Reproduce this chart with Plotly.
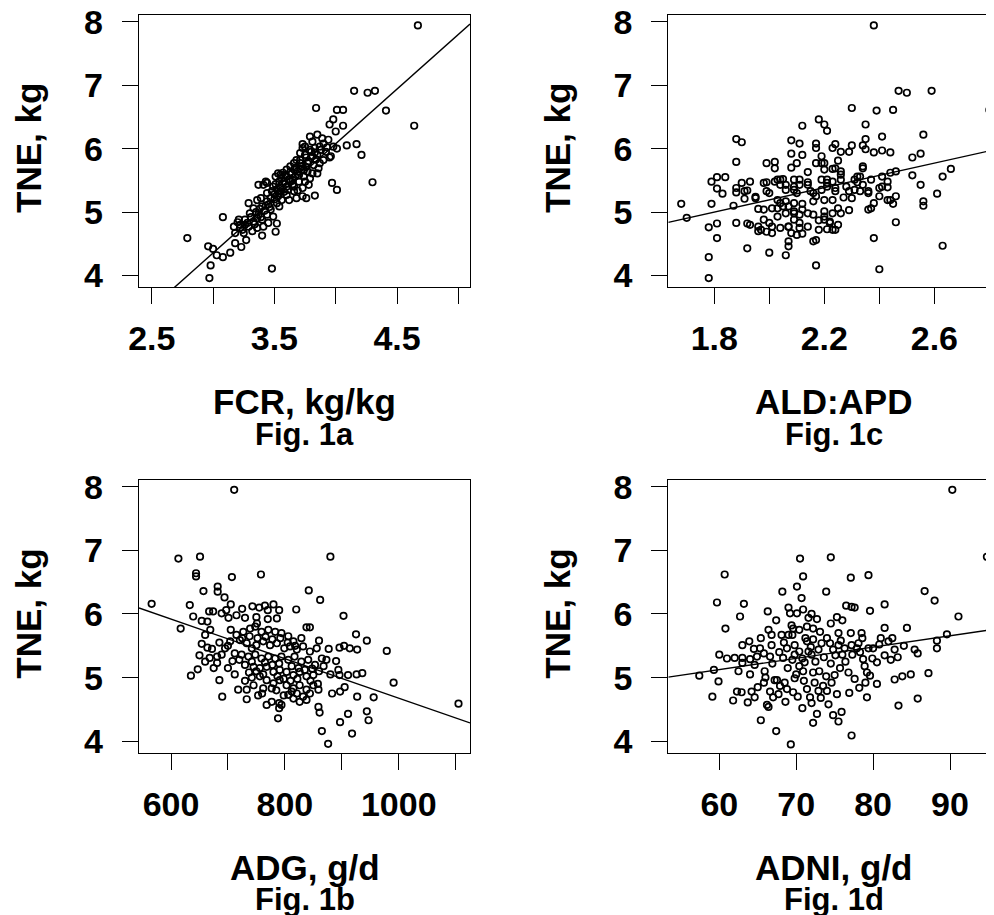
import plotly.graph_objects as go

# ---------------- data ----------------
# Fig. 1a : FCR (kg/kg) vs TNE (kg)
fcr_pts = [
    (4.67, 7.94), (4.15, 6.91), (4.26, 6.88), (4.32, 6.91), (3.84, 6.64), (4.01, 6.61), (4.06, 6.61),
    (4.41, 6.60), (3.98, 6.46), (3.95, 6.38), (4.06, 6.36), (4.00, 6.27), (4.64, 6.36), (4.09, 6.05),
    (4.17, 6.07), (4.21, 5.90), (3.97, 5.46), (4.01, 5.35), (4.30, 5.47), (3.83, 5.26), (3.76, 5.22),
    (3.52, 4.82), (3.51, 4.69), (3.48, 4.11), (3.40, 4.63), (3.08, 4.92), (2.79, 4.59), (2.96, 4.46),
    (3.00, 4.42), (3.03, 4.32), (3.08, 4.29), (3.14, 4.36), (2.98, 4.16), (2.97, 3.96), (3.18, 4.51),
    (3.23, 4.45), (3.27, 4.56),
    (3.85, 6.22), (3.89, 6.16), (3.81, 6.11), (3.94, 6.14), (3.75, 6.03), (3.73, 6.01), (3.79, 5.98),
    (3.83, 6.01), (3.87, 6.03), (3.92, 5.95), (3.96, 5.88), (3.98, 6.03), (4.01, 6.00),
    (3.71, 5.93), (3.75, 5.90), (3.81, 5.88), (3.85, 5.90), (3.90, 5.82), (3.95, 5.86), (3.71, 5.82),
    (3.66, 5.77), (3.77, 5.77), (3.82, 5.74), (3.87, 5.77), (3.86, 5.69), (3.63, 5.72),
    (3.60, 5.67), (3.66, 5.67), (3.71, 5.69), (3.77, 5.64), (3.81, 5.61), (3.85, 5.61), (3.55, 5.59),
    (3.60, 5.56), (3.67, 5.56), (3.74, 5.56), (3.79, 5.53), (3.58, 5.48), (3.63, 5.48), (3.70, 5.48),
    (3.75, 5.48), (3.54, 5.48),
    (3.44, 5.46), (3.41, 5.43), (3.49, 5.40), (3.55, 5.38), (3.60, 5.40), (3.66, 5.40), (3.73, 5.38),
    (3.78, 5.43), (3.48, 5.33), (3.54, 5.30), (3.60, 5.27), (3.66, 5.33), (3.73, 5.25), (3.62, 5.19),
    (3.68, 5.22), (3.44, 5.30), (3.39, 5.22),
    (3.29, 5.14), (3.36, 5.19), (3.44, 5.17), (3.52, 5.14), (3.56, 5.19), (3.33, 5.06), (3.40, 5.09),
    (3.47, 5.04), (3.54, 5.09), (3.30, 4.98), (3.37, 4.96), (3.44, 4.96), (3.49, 4.93),
    (3.21, 4.88), (3.26, 4.88), (3.33, 4.85), (3.40, 4.88), (3.45, 4.83), (3.17, 4.77), (3.22, 4.75),
    (3.29, 4.77), (3.36, 4.75), (3.41, 4.77), (3.18, 4.67), (3.25, 4.67), (3.32, 4.70), (3.20, 4.84),
    (3.37, 5.43), (3.43, 5.48), (3.51, 5.56), (3.53, 5.61), (3.68, 5.82), (3.73, 6.07), (3.79, 6.19),
    (3.57, 5.45), (3.62, 5.52), (3.65, 5.44), (3.52, 5.36), (3.58, 5.32), (3.47, 5.22), (3.53, 5.25),
    (3.64, 5.60), (3.69, 5.64), (3.72, 5.72), (3.78, 5.80), (3.80, 5.95), (3.88, 5.98), (3.45, 5.12),
    (3.35, 5.00), (3.26, 4.80), (3.31, 4.92), (3.38, 5.05), (3.42, 5.02), (3.90, 6.08),
    (3.56, 5.53), (3.61, 5.35), (3.50, 5.28), (3.46, 5.08), (3.39, 4.92), (3.34, 4.81), (3.24, 4.72),
    (3.69, 5.34), (3.70, 5.58), (3.76, 5.71), (3.84, 5.83), (3.93, 6.02), (3.57, 5.62), (3.51, 5.44),
    (3.59, 5.58), (3.63, 5.63), (3.68, 5.70), (3.74, 5.66), (3.76, 5.86), (3.83, 5.94), (3.55, 5.33),
    (3.50, 5.20), (3.43, 5.10), (3.36, 4.90), (3.28, 4.83), (3.22, 4.80), (3.65, 5.50), (3.71, 5.77),
]

# Fig. 1c : ALD:APD vs TNE (kg)
ald_pts = [
    (2.38, 7.94), (2.47, 6.91), (2.50, 6.88), (2.59, 6.91), (2.80, 6.61), (2.30, 6.64), (2.39, 6.60),
    (2.45, 6.61), (2.18, 6.46), (2.20, 6.38), (2.21, 6.28), (2.12, 6.36), (2.35, 6.38), (2.35, 6.15),
    (2.41, 6.19), (2.56, 6.22), (1.88, 6.15), (1.90, 6.10), (1.88, 5.79), (2.08, 6.13), (2.11, 6.08),
    (2.17, 6.08), (2.17, 6.01), (2.08, 5.92), (2.12, 5.90), (2.23, 6.01), (2.24, 6.07), (2.26, 5.95),
    (2.29, 5.95), (2.30, 6.05), (2.34, 6.05), (2.35, 5.99), (2.38, 5.94), (2.41, 5.97), (2.44, 5.94),
    (2.52, 5.86), (2.55, 5.92), (2.19, 5.88), (2.19, 5.77), (2.25, 5.81), (1.99, 5.77), (2.02, 5.79),
    (2.02, 5.69), (2.08, 5.70), (2.10, 5.77), (2.14, 5.63), (2.17, 5.77), (2.20, 5.67), (2.23, 5.68),
    (2.26, 5.64), (2.34, 5.69), (2.44, 5.62), (2.46, 5.64), (2.66, 5.68), (2.63, 5.56), (2.52, 5.58),
    (2.55, 5.43), (2.61, 5.29), (2.56, 5.17), (2.56, 5.10), (2.41, 5.56), (2.43, 5.48), (2.41, 5.40),
    (2.43, 5.39), (2.40, 5.25), (2.44, 5.19), (2.46, 5.25), (2.45, 5.13), (2.46, 4.84), (2.38, 5.14),
    (2.37, 5.06), (2.36, 5.04), (2.38, 4.59), (2.40, 4.10), (2.63, 4.47), (2.31, 5.51), (2.33, 5.56),
    (2.32, 5.47), (2.34, 5.43), (2.36, 5.33), (2.33, 5.33), (2.29, 5.33), (2.30, 5.22), (2.27, 5.23),
    (2.29, 5.03), (2.26, 4.98), (2.25, 5.06), (2.23, 4.98), (2.20, 5.01), (2.22, 4.85), (2.25, 4.80),
    (2.23, 4.72), (2.21, 4.73), (2.18, 4.72), (2.18, 4.87), (2.20, 4.88), (2.16, 4.54), (2.17, 4.56),
    (2.17, 4.16), (2.14, 4.77), (2.12, 4.66), (2.10, 4.64), (2.08, 4.67), (2.07, 4.54), (2.07, 4.46),
    (2.06, 4.32), (2.00, 4.36), (2.04, 4.75), (2.01, 4.67), (1.99, 4.69), (1.96, 4.70), (1.96, 4.77),
    (1.98, 4.88), (2.00, 4.83), (2.03, 4.93), (2.06, 4.98), (2.09, 4.98), (2.11, 4.96), (2.14, 4.98),
    (1.92, 4.43), (1.92, 4.82), (1.88, 4.83), (1.81, 4.82), (1.78, 4.76), (1.81, 4.59), (1.78, 4.29),
    (1.78, 3.96), (1.68, 5.13), (1.70, 4.91), (1.79, 5.13), (1.87, 5.10), (1.96, 5.05), (1.79, 5.48),
    (1.81, 5.55), (1.84, 5.55), (1.81, 5.37), (1.83, 5.29), (1.88, 5.38), (1.88, 5.31), (1.90, 5.46),
    (1.93, 5.48), (1.92, 5.34), (1.91, 5.21), (1.95, 5.24), (1.99, 5.47), (1.99, 5.33), (2.00, 5.30),
    (2.02, 5.48), (2.04, 5.51), (2.05, 5.52), (2.06, 5.43), (2.09, 5.51), (2.09, 5.35), (2.10, 5.30),
    (2.11, 5.43), (2.14, 5.47), (2.15, 5.33), (2.17, 5.25), (2.19, 5.35), (2.21, 5.51), (2.21, 5.40),
    (2.23, 5.48), (2.24, 5.38), (2.03, 5.19), (2.04, 5.14), (2.06, 5.17), (2.07, 5.09), (2.09, 5.14),
    (2.12, 5.13), (2.16, 5.17), (2.20, 5.19), (2.23, 5.19), (2.03, 5.06), (2.09, 4.88), (2.07, 4.77),
    (2.11, 4.75),
    (2.20, 5.77), (2.24, 5.69), (2.26, 5.59), (2.32, 5.56), (2.34, 5.72), (2.37, 5.51), (2.36, 5.30),
    (2.40, 5.38), (2.43, 5.19), (1.91, 5.33), (1.95, 5.22), (1.98, 5.46), (2.03, 5.51), (2.04, 5.43),
    (2.06, 5.35), (2.09, 5.40), (2.11, 5.51), (2.14, 5.43), (2.16, 5.30), (2.19, 5.51), (2.21, 5.46),
    (2.24, 5.33), (2.26, 5.51), (2.28, 5.40), (2.31, 5.35), (1.98, 5.04), (2.01, 5.06), (2.05, 5.09),
    (2.09, 5.01), (2.12, 5.04), (2.16, 4.96), (2.20, 4.93), (2.22, 4.83), (2.24, 4.72), (2.11, 4.83),
    (2.07, 4.77), (2.01, 4.77), (1.97, 4.72), (1.93, 4.80),
]

# Fig. 1b : ADG (g/d) vs TNE (kg)
adg_pts = [
    (711, 7.95), (613, 6.87), (651, 6.90), (880, 6.90), (644, 6.64), (644, 6.59), (707, 6.58),
    (758, 6.62), (657, 6.36), (682, 6.43), (682, 6.35), (694, 6.26), (842, 6.37), (862, 6.22),
    (566, 6.16), (633, 6.14), (617, 5.77), (639, 5.96), (654, 5.89), (664, 5.88), (667, 6.04),
    (674, 6.04), (697, 6.06), (689, 6.01), (701, 5.94), (715, 5.98), (730, 5.94), (743, 6.12),
    (755, 6.10), (765, 6.13), (780, 6.15), (790, 6.06), (786, 5.93), (770, 6.06), (820, 6.07),
    (903, 5.97), (925, 5.68), (944, 5.58), (979, 5.42), (991, 4.92), (1105, 4.59),
    (660, 5.67), (669, 5.75), (654, 5.53), (664, 5.47), (650, 5.35), (668, 5.31), (681, 5.33),
    (681, 5.23), (689, 5.36), (695, 5.46), (704, 5.57), (715, 5.67), (727, 5.72), (739, 5.77),
    (748, 5.80), (759, 5.72), (771, 5.75), (783, 5.72), (794, 5.70), (806, 5.65), (815, 5.57),
    (829, 5.62), (838, 5.79), (844, 5.79), (860, 5.58), (877, 5.45), (896, 5.47), (904, 5.50),
    (914, 5.46), (927, 5.44), (894, 5.12), (890, 5.26), (896, 5.04), (911, 5.04), (926, 5.05),
    (936, 5.07), (635, 5.03), (647, 5.13), (685, 4.96), (690, 4.70), (718, 4.81), (733, 4.81),
    (733, 4.66), (753, 4.72), (768, 4.57), (777, 4.62), (790, 4.60), (790, 4.52), (788, 4.36),
    (794, 4.57), (859, 4.81), (859, 4.54), (861, 4.45), (865, 4.16), (876, 3.96), (897, 4.30),
    (883, 4.75), (897, 4.78), (905, 4.85), (911, 4.43), (918, 4.12), (927, 4.70), (944, 4.47),
    (947, 4.33), (956, 4.69),
    (721, 5.59), (733, 5.54), (742, 5.46), (750, 5.51), (762, 5.57), (774, 5.51), (786, 5.54),
    (799, 5.46), (809, 5.49), (821, 5.44), (832, 5.49), (844, 5.41), (856, 5.46), (712, 5.38),
    (724, 5.36), (736, 5.33), (748, 5.36), (759, 5.30), (771, 5.33), (783, 5.30), (794, 5.33),
    (806, 5.28), (817, 5.33), (829, 5.25), (841, 5.28), (853, 5.20), (865, 5.30), (873, 5.28),
    (730, 5.20), (745, 5.17), (756, 5.15), (768, 5.17), (780, 5.09), (791, 5.12), (803, 5.09),
    (815, 5.04), (826, 5.09), (838, 5.02), (850, 5.04), (756, 5.02), (768, 4.96), (780, 4.91),
    (791, 4.96), (803, 4.88), (815, 4.83), (826, 4.88), (838, 4.81), (850, 4.88), (745, 4.88),
    (762, 4.83), (806, 4.73), (821, 4.75), (832, 4.70), (844, 4.75), (815, 4.67), (777, 4.83),
    (751, 5.85),
    (705, 5.75), (725, 5.62), (738, 5.65), (752, 5.62), (766, 5.64), (778, 5.60), (792, 5.62),
    (805, 5.55), (818, 5.50), (700, 5.50), (708, 5.26), (720, 5.28), (742, 5.25), (765, 5.24),
    (778, 5.20), (790, 5.22), (812, 5.18), (824, 5.15), (835, 5.12), (848, 5.14), (860, 5.10),
    (737, 5.08), (750, 5.10), (762, 5.05), (787, 5.02), (798, 4.98), (810, 4.95), (822, 4.98),
    (845, 4.95), (858, 4.90), (730, 4.95), (742, 5.00), (760, 4.75), (785, 4.80), (798, 4.72),
    (812, 4.78), (826, 4.62), (838, 4.65), (700, 5.15), (712, 5.05), (868, 5.18), (880, 5.05),
    (672, 5.45), (685, 5.55), (660, 5.25), (675, 5.15), (705, 6.15), (725, 6.08), (750, 5.95),
    (770, 5.92),
]

# Fig. 1d : ADNI (g/d) vs TNE (kg)
adni_pts = [
    (90.3, 7.95), (94.8, 6.90), (70.5, 6.87), (74.5, 6.89), (60.7, 6.62), (70.9, 6.59), (77.1, 6.57),
    (79.4, 6.61), (70.1, 6.43), (68.2, 6.35), (73.9, 6.35), (70.7, 6.25), (86.7, 6.36), (88.0, 6.21),
    (59.7, 6.18), (63.2, 6.16), (62.7, 5.96), (60.8, 5.77), (66.3, 6.04), (67.4, 5.90), (70.9, 6.07),
    (69.2, 6.01), (70.1, 6.01), (72.7, 5.92), (71.6, 5.94), (75.3, 5.95), (76.5, 6.13), (77.2, 6.11),
    (77.6, 6.10), (79.6, 6.05), (81.5, 6.15), (91.1, 5.96), (89.6, 5.68), (88.3, 5.58), (88.3, 5.46),
    (84.4, 5.78), (81.5, 5.78), (81.0, 5.62), (82.0, 5.57), (82.8, 5.44), (85.4, 5.44), (85.8, 5.38),
    (82.3, 5.28), (87.2, 5.07), (84.9, 5.05), (83.8, 5.02), (82.8, 4.97), (85.8, 4.67), (83.3, 4.56),
    (80.5, 4.90), (79.2, 4.69), (78.2, 4.84), (76.9, 4.76), (77.2, 4.09), (75.9, 4.46), (74.8, 4.41),
    (75.5, 4.31), (72.7, 4.43), (72.2, 4.29), (70.8, 4.52), (69.3, 3.95), (67.4, 4.16), (65.4, 4.33),
    (66.4, 4.54), (66.2, 4.57), (67.0, 4.69), (66.6, 4.78), (65.8, 4.92), (67.2, 4.96), (64.6, 4.69),
    (64.2, 4.78), (62.9, 4.77), (62.3, 4.78), (61.8, 4.64), (59.1, 4.70), (59.9, 4.94), (57.4, 5.03),
    (59.3, 5.12), (60.0, 5.36), (62.0, 5.31), (63.0, 5.31), (64.0, 5.29), (63.0, 5.51), (63.9, 5.57),
    (63.0, 5.23), (64.6, 5.20), (64.9, 5.33), (65.3, 5.46), (65.4, 5.62), (65.8, 5.38), (66.6, 5.33),
    (66.4, 5.75), (66.8, 5.67), (66.8, 5.51), (68.3, 5.31), (68.8, 5.46), (69.0, 5.67), (69.5, 5.67),
    (69.6, 5.77), (69.8, 5.51), (69.8, 5.36), (69.5, 5.28), (67.5, 4.96), (68.5, 4.92), (68.8, 4.82),
    (69.8, 4.99), (69.6, 4.77), (70.4, 5.18), (70.9, 5.10), (71.1, 5.24), (71.4, 4.82), (71.8, 4.69),
    (72.2, 5.08), (72.4, 4.92), (72.9, 4.79), (73.5, 4.87), (74.0, 4.79), (74.6, 4.92), (75.3, 4.74),
    (75.7, 5.15), (75.0, 5.04), (71.6, 5.41), (72.0, 5.36), (72.9, 5.44), (73.3, 5.54), (74.0, 5.62),
    (74.4, 5.54), (74.8, 5.44), (75.5, 5.70), (75.5, 5.51), (76.0, 5.36), (76.3, 5.46), (77.1, 5.70),
    (77.2, 5.51), (77.3, 5.36), (77.9, 5.46), (78.1, 5.54), (78.5, 5.70), (78.7, 5.29), (78.9, 5.18),
    (79.2, 5.08), (79.6, 5.03), (79.4, 5.46), (80.0, 5.46), (80.5, 5.24), (72.2, 5.77), (73.1, 5.72),
    (70.4, 5.75), (71.4, 5.80), (72.2, 5.60), (71.4, 5.57), (70.4, 5.41), (67.9, 4.87), (69.4, 5.82),
    (68.1, 5.67), (63.7, 4.61),
    (64.5, 5.45), (65.9, 5.10), (66.9, 5.22), (67.8, 5.40), (68.4, 5.55), (68.9, 5.15), (70.0, 5.05),
    (70.8, 5.30), (71.2, 5.62), (71.9, 5.48), (72.5, 5.25), (73.0, 5.10), (73.6, 5.32), (73.9, 5.02),
    (74.5, 5.22), (75.1, 5.35), (75.8, 5.58), (76.4, 5.25), (76.8, 5.08), (77.6, 4.98), (78.3, 5.40),
    (78.6, 5.62), (79.0, 4.92), (79.9, 5.30), (80.8, 5.52), (81.5, 5.35), (82.5, 5.62), (83.2, 5.32),
    (84.0, 5.50), (70.2, 4.70), (71.0, 4.95), (72.0, 4.60), (73.2, 4.68), (74.2, 4.58), (66.0, 5.00),
    (65.0, 4.85), (67.7, 4.74), (68.6, 4.62), (61.0, 5.30), (62.5, 5.10), (64.0, 5.05), (69.0, 6.10),
    (72.0, 6.00), (74.5, 5.85), (76.0, 5.90),
]

# fitted regression lines (intercept, slope)
fcr_fit = (-0.810, 1.722)
ald_fit = (3.263, 0.965)
adg_fit = (7.782, -0.003105)
adni_fit = (4.063, 0.01771)

# axis ticks
fcr_ticks = [2.5, 3.0, 3.5, 4.0, 4.5, 5.0]
fcr_labels = ["2.5", "", "3.5", "", "4.5", ""]
ald_ticks = [1.8, 2.0, 2.2, 2.4, 2.6, 2.8]
ald_labels = ["1.8", "", "2.2", "", "2.6", ""]
adg_ticks = [600, 700, 800, 900, 1000, 1100]
adg_labels = ["600", "", "800", "", "1000", ""]
adni_ticks = [60, 70, 80, 90]
adni_labels = ["60", "70", "80", "90"]
tne_ticks = [4, 5, 6, 7, 8]
tne_labels = ["4", "5", "6", "7", "8"]

# ---------------- layout ----------------
W, H = 994, 915
FONT = "Liberation Sans, Arial, Helvetica, sans-serif"
PAGE_OFFSET = 8  # the page body adds an 8 px margin around the figure

def px_x(p):
    return (p - PAGE_OFFSET) / W

def px_y(p):
    return 1 - (p - PAGE_OFFSET) / H

LEFT = [px_x(139), px_x(470)]
RIGHT = [px_x(668.3), px_x(999.3)]
TOP = [px_y(287), px_y(15)]
BOTTOM = [px_y(752.7), px_y(480)]
YR = [3.82, 8.105]

panels = [
    dict(pts=fcr_pts, fit=fcr_fit, xd=LEFT, yd=TOP, xr=[2.396, 5.095], tv=fcr_ticks, tt=fcr_labels,
         title="FCR, kg/kg", fig="Fig. 1a", right=False, top=True),
    dict(pts=ald_pts, fit=ald_fit, xd=RIGHT, yd=TOP, xr=[1.633, 2.836], tv=ald_ticks, tt=ald_labels,
         title="ALD:APD", fig="Fig. 1c", right=True, top=True),
    dict(pts=adg_pts, fit=adg_fit, xd=LEFT, yd=BOTTOM, xr=[543.8, 1125.2], tv=adg_ticks, tt=adg_labels,
         title="ADG, g/d", fig="Fig. 1b", right=False, top=False),
    dict(pts=adni_pts, fit=adni_fit, xd=RIGHT, yd=BOTTOM, xr=[53.37, 96.41], tv=adni_ticks, tt=adni_labels,
         title="ADNI, g/d", fig="Fig. 1d", right=True, top=False),
]

fig = go.Figure()
layout = dict(
    width=W, height=H, margin=dict(l=0, r=0, t=0, b=0, pad=0, autoexpand=False),
    paper_bgcolor="white", plot_bgcolor="white", showlegend=False,
    font=dict(family=FONT, color="black"),
)
annotations = []
tickfont = dict(family=FONT, size=34, color="black", weight="bold")

for i, p in enumerate(panels):
    n = i + 1
    xa = "x" if n == 1 else f"x{n}"
    ya = "y" if n == 1 else f"y{n}"
    xs = [a for a, b in p["pts"]]
    ys = [b for a, b in p["pts"]]
    fig.add_trace(go.Scatter(
        x=xs, y=ys, mode="markers", xaxis=xa, yaxis=ya,
        marker=dict(symbol="circle-open", size=6.5, color="black", line=dict(width=1.7, color="black")),
        hoverinfo="skip",
    ))
    b0, b1 = p["fit"]
    lx = [p["xr"][0], p["xr"][1]]
    fig.add_trace(go.Scatter(
        x=lx, y=[b0 + b1 * v for v in lx], mode="lines", xaxis=xa, yaxis=ya,
        line=dict(color="black", width=1.4), hoverinfo="skip",
    ))
    layout[f"xaxis{n}"] = dict(
        domain=p["xd"], range=p["xr"], anchor=ya, automargin=False,
        showline=True, linecolor="black", linewidth=1.4, mirror=True,
        showgrid=False, zeroline=False,
        ticks="outside", ticklen=16, tickwidth=1.4, tickcolor="black",
        tickvals=p["tv"], ticktext=p["tt"], tickfont=tickfont, ticklabelstandoff=5,
        ticklabeloverflow="allow",
    )
    layout[f"yaxis{n}"] = dict(
        domain=p["yd"], range=YR, anchor=xa, automargin=False,
        showline=True, linecolor="black", linewidth=1.4, mirror=True,
        showgrid=False, zeroline=False,
        ticks="outside", ticklen=16, tickwidth=1.4, tickcolor="black",
        tickvals=tne_ticks, ticktext=tne_labels, tickfont=tickfont, ticklabelstandoff=12,
        ticklabeloverflow="allow",
    )
    cx = px_x(304.5) if not p["right"] else px_x(833.8)
    off = 0 if p["top"] else 465.7
    annotations.append(dict(
        text=f"<b>{p['title']}</b>", x=cx, y=px_y(401.5 + off), xref="paper", yref="paper",
        xanchor="center", yanchor="middle", showarrow=False,
        font=dict(family=FONT, size=35, color="black"),
    ))
    annotations.append(dict(
        text=f"<b>{p['fig']}</b>", x=cx, y=px_y(434 + off), xref="paper", yref="paper",
        xanchor="center", yanchor="middle", showarrow=False,
        font=dict(family=FONT, size=31, color="black"),
    ))
    tx = px_x(29) if not p["right"] else px_x(558)
    annotations.append(dict(
        text="<b>TNE, kg</b>", x=tx, y=px_y(148 + off), xref="paper", yref="paper",
        xanchor="center", yanchor="middle", showarrow=False, textangle=-90,
        font=dict(family=FONT, size=35, color="black"),
    ))

layout["annotations"] = annotations
fig.update_layout(**layout)
fig.write_html("out.html")
